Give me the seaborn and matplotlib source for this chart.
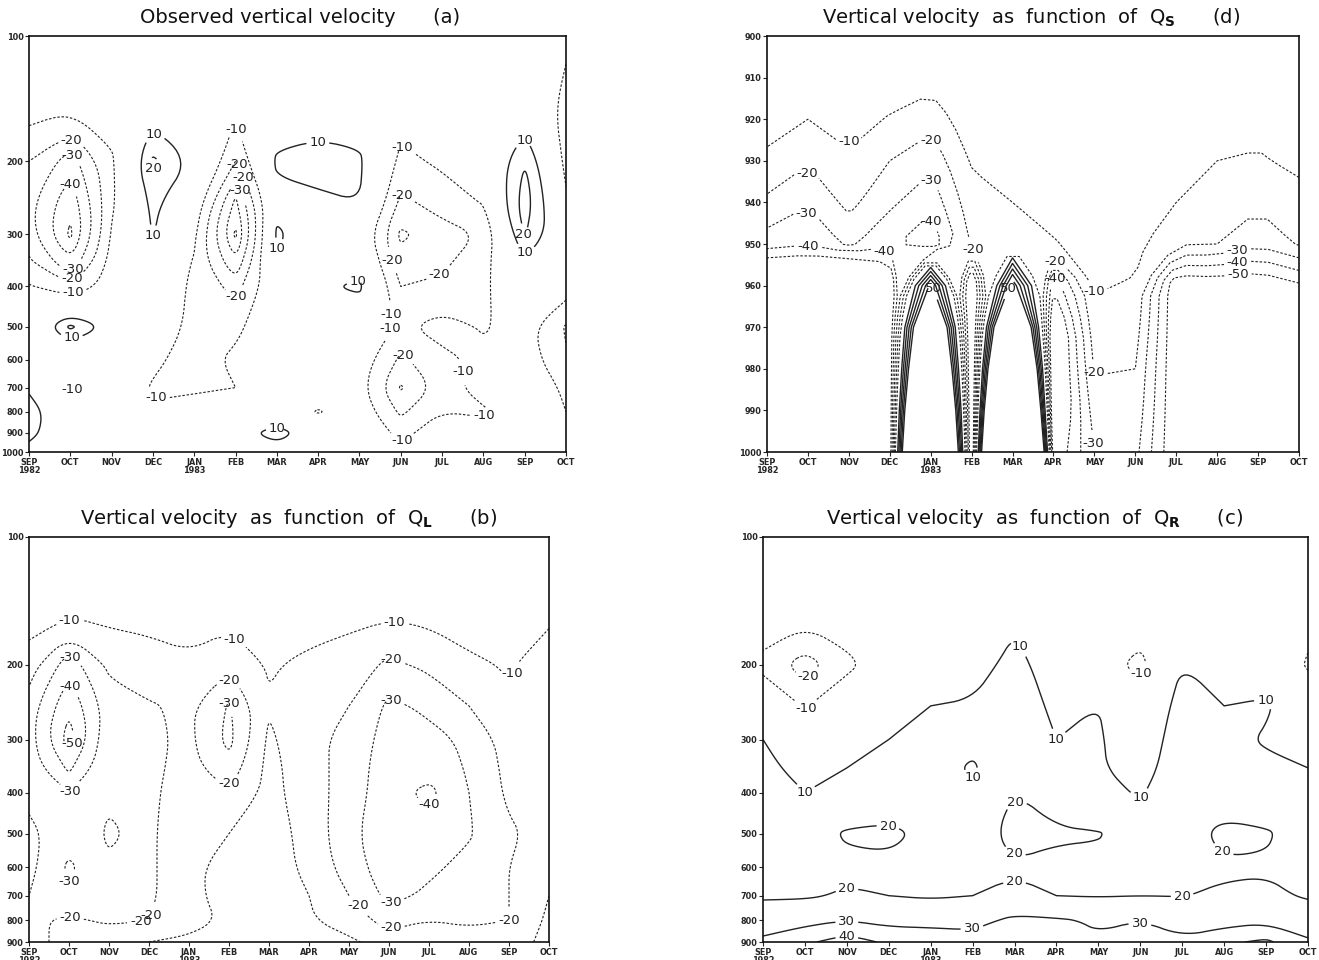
import numpy as np
import seaborn as sns
import matplotlib
matplotlib.use("Agg")
import matplotlib.pyplot as plt
from matplotlib.path import Path

# months SEP 1982 .. OCT 1983
months = ["SEP\n1982", "OCT", "NOV", "DEC", "JAN\n1983", "FEB", "MAR", "APR",
          "MAY", "JUN", "JUL", "AUG", "SEP", "OCT"]
month_idx = list(range(len(months)))

# pressure levels (hPa)
lev_a = [100, 150, 200, 250, 300, 350, 400, 500, 600, 700, 800, 900, 1000]
lev_bc = [100, 150, 200, 250, 300, 350, 400, 500, 600, 700, 800, 900]
lev_d = [900, 910, 920, 930, 940, 950, 960, 970, 980, 990, 1000]

# (a) observed vertical velocity, one row per month, values at lev_a
obs_w = [
    [0, -6, -20, -27, -26, -18, -9, -3, 0, 8, 16, 14, 5],
    [0, -9, -35, -47, -52, -38, -18, 22, -6, -11, -3, -2, 0],
    [0, -5, -12, -12, -9, -6, -5, 6, 0, -2, -1, 0, 0],
    [0, 5, 22, 13, 10.5, 3, -2, -5, -8, -11, -9, -2, 0],
    [0, 0, 8, -2, -8, -11, -12, -12, -14, -11, -7, -2, 0],
    [0, -8, -20, -42, -52, -38, -24, -12, -8, -10, -4, 5, 0],
    [0, 3, 12, 6, 12, 9, 0, -3, -2, -3, -1, 15, 4],
    [0, 5, 14, 8, 2, 4, 8, 0, 0, -2, -11, 2, 0],
    [0, 4, 12, 10, 0, 5, 12, 0, -4, -6, -3, -4, 0],
    [0, -5, -13, -22, -32, -26, -20, -12, -22, -31, -22, -12, -8],
    [0, -4, -8, -16, -24, -22, -18, -6, -13, -16, -10, -6, -3],
    [0, -2, -4, -9, -19, -14, -12, -11, -7, -4, -12, -4, 0],
    [0, 2, 20, 26, 21, 8, 0, -6, -4, -2, -2, 0, 0],
    [-8, -14, -13, -8, -2, -3, -5, -21, -19, -12, -10, -4, 0],
]

# (b) vertical velocity from Q_L, values at lev_bc
ql_w = [
    [0, -5, -15, -25, -26, -24, -22, -18, -17, -20, -22, -25],
    [0, -8, -36, -48, -55, -42, -30, -25, -32, -29, -18, -15],
    [0, -7, -18, -25, -22, -21, -21, -19, -21, -22, -22, -12],
    [0, -7, -14, -21, -22, -22, -22, -22, -22, -22, -20, -10],
    [0, -5, -12, -18, -18, -17, -15, -12, -12, -12, -14, -8],
    [0, -6, -18, -31, -33, -26, -19, -10, -7, -7, -8, -5],
    [0, -5, -9, -11, -8, -7, -7, -6, -6, -7, -9, -8],
    [0, -6, -12, -18, -18, -16, -15, -13, -12, -10, -9, -7],
    [0, -7, -15, -20, -22, -24, -25, -28, -25, -20, -15, -8],
    [0, -8, -22, -32, -35, -36, -36, -35, -36, -33, -24, -15],
    [0, -7, -18, -28, -33, -36, -43, -35, -32, -28, -20, -15],
    [0, -5, -12, -20, -28, -29, -30, -31, -27, -24, -22, -15],
    [0, -4, -9, -12, -15, -17, -18, -22, -20, -20, -20, -18],
    [0, -8, -15, -18, -14, -12, -12, -15, -12, -10, -8, -5],
]

# (c) vertical velocity from Q_R, values at lev_bc
qr_w = [
    [0, -3, -13, 0, 10, 13, 15, 20, 17, 19, 25, 32],
    [0, -5, -25, -11, 0, 6, 10, 16, 17, 19, 27, 38],
    [0, -3, -13, 0, 5, 10, 13, 21, 18, 21, 30, 45],
    [0, 0, -2, 6, 10, 12, 14, 22, 18, 20, 27, 38],
    [0, 0, 3, 10, 12, 13, 14, 18, 17, 19, 27, 36],
    [0, 2, 6, 11, 12, 9, 11, 16, 18, 20, 27, 34],
    [0, 8, 13, 15, 15, 16, 20, 23, 19, 22, 32, 36],
    [0, 0, 5, 8, 10, 12, 16, 21, 18, 20, 31, 38],
    [0, 0, -4, 10, 11, 11, 13, 20.5, 18, 19.5, 29, 31],
    [0, -2, -14, 0, 4, 6, 9, 16, 17, 20, 30, 33],
    [0, 5, 10, 14, 15, 16, 17, 17, 17, 19.8, 25, 32],
    [0, 0, 6, 10, 13, 15, 16, 22, 19, 21, 26, 38],
    [0, 0, 6, 11, 9, 12, 14, 21, 19, 22, 28, 42],
    [0, -4, -12, 4, 7, 10, 12, 16, 18, 19, 26, 31],
]

# (d) vertical velocity from Q_S, values at lev_d
qs_w = [
    [0, -2, -6, -12, -22, -35, -80, -80, -80, -80, -80],
    [0, -3, -10, -19, -29, -39, -80, -80, -80, -80, -80],
    [0, -2, -5, -12, -17, -28, -90, -90, -90, -90, -90],
    [0, -3, -11, -20, -28, -38, -65, -60, -60, -60, -60],
    [0, -6, -16, -27, -37, -48, 55, 130, 180, 240, 300],
    [0, -2, -4, -9, -14, -19, -70, -70, -70, -70, -70],
    [0, -1, -3, -5, -10, -15, 60, 150, 230, 320, 424],
    [0, 0, -1, -3, -5, -11, -48, -70, -70, -70, -60],
    [0, 0, -1, -2, -3, -5, -9, -14, -19, -25, -30],
    [0, 0, -1, -2, -4, -7, -11, -15, -20, -23, -27],
    [0, -1, -2, -5, -10, -19, -60, -60, -60, -60, -60],
    [0, -2, -5, -10, -15, -20, -58, -60, -60, -60, -60],
    [0, -3, -7, -11, -18, -28, -60, -60, -60, -60, -60],
    [0, -2, -5, -8, -13, -19, -52, -60, -60, -60, -60],
]

# where the contour labels sit (month, hPa): negative set, positive set
lab_a = (
    [(1.07, 171), (1.07, 191), (1.07, 217), (1.07, 365), (1.07, 396),
     (1.07, 416), (1.07, 718), (3.03, 770), (5.03, 165), (5.03, 204),
     (5.03, 221), (5.03, 238), (5.03, 427), (9.04, 171), (9.09, 225),
     (9.09, 339), (10.1, 404), (9.04, 464), (9.04, 513), (9.09, 563),
     (11.04, 641), (11.04, 847), (9.04, 953)],
    [(1.03, 538), (2.98, 163), (2.98, 215), (2.98, 303), (6.99, 174),
     (6.01, 362), (7.97, 368), (6.01, 878), (12.0, 179), (12.0, 300),
     (12.0, 342)],
)
lab_b = (
    [(1.03, 162), (1.03, 194), (1.03, 213), (1.03, 306), (1.03, 397),
     (1.03, 707), (1.03, 762), (3.03, 777), (3.03, 810), (5.04, 185),
     (5.04, 213), (5.04, 236), (5.04, 394), (8.04, 768), (9.14, 169),
     (9.05, 191), (9.05, 220), (9.05, 754), (9.05, 848), (10.1, 459),
     (12.1, 210), (12.1, 887)],
    [],
)
lab_c = (
    [(1.14, 221), (1.14, 265), (9.1, 215)],
    [(1.0, 412), (6.01, 185), (7.0, 329), (5.0, 408), (9.0, 408),
     (12.0, 238), (3.0, 455), (6.0, 405), (6.0, 556), (11.0, 540),
     (2.0, 676), (6.0, 636), (10.0, 700), (9.0, 787), (5.0, 861),
     (2.0, 831), (2.0, 863)],
)
lab_d = (
    [(2.0, 927), (8.0, 962), (1.0, 931), (4.0, 924), (8.0, 981),
     (1.0, 941), (4.0, 933), (8.0, 998), (1.0, 949.5), (4.0, 943),
     (2.9, 951), (11.5, 952.5), (11.5, 954.5), (11.5, 956.5),
     (7.05, 953), (7.05, 958), (5.0, 951.5)],
    [(4.0, 961), (6.0, 961)],
)

titles = ["Observed vertical velocity      (a)",
          r"Vertical velocity  as  function  of  Q$_\mathbf{S}$      (d)",
          r"Vertical velocity  as  function  of  Q$_\mathbf{L}$      (b)",
          r"Vertical velocity  as  function  of  Q$_\mathbf{R}$      (c)"]

cont_levels = [-50, -40, -30, -20, -10, 10, 20, 30, 40, 50]

sns.set_style("ticks")
plt.rcParams['font.family'] = ['DejaVu Sans']

W, H = 1319, 960
fig = plt.figure(figsize=(W / 100, H / 100), dpi=100)


def box(l, r, t, b):
    return [l / W, 1 - b / H, (r - l) / W, (b - t) / H]


def chaikin(pts, closed, passes):
    # corner cutting, like the spline option of the original plotting package
    for _ in range(passes):
        if len(pts) < 3:
            return pts
        if closed:
            a, b = pts, np.roll(pts, -1, axis=0)
            q = 0.75 * a + 0.25 * b
            r = 0.25 * a + 0.75 * b
            pts = np.empty((2 * len(a), 2))
            pts[0::2], pts[1::2] = q, r
        else:
            a, b = pts[:-1], pts[1:]
            q = 0.75 * a + 0.25 * b
            r = 0.25 * a + 0.75 * b
            mid = np.empty((2 * len(a), 2))
            mid[0::2], mid[1::2] = q, r
            pts = np.vstack([pts[:1], mid[1:-1], pts[-1:]])
    return pts


def soften(cs, logy, passes):
    if passes == 0:
        return
    out = []
    for p in cs.get_paths():
        v = p.vertices
        if len(v) == 0:
            out.append(p)
            continue
        c = p.codes
        if c is None:
            c = np.full(len(v), Path.LINETO)
            c[0] = Path.MOVETO
        starts = list(np.where(c == Path.MOVETO)[0]) + [len(v)]
        verts, codes = [], []
        for s, e in zip(starts[:-1], starts[1:]):
            seg = v[s:e].astype(float).copy()
            closed = c[e - 1] == Path.CLOSEPOLY
            if closed:
                seg = seg[:-1]
            elif len(seg) > 2 and np.allclose(seg[0], seg[-1]):
                closed = True
                seg = seg[:-1]
            if logy:
                seg[:, 1] = np.log10(seg[:, 1])
            seg = chaikin(seg, closed, passes)
            if logy:
                seg[:, 1] = 10 ** seg[:, 1]
            if closed:
                seg = np.vstack([seg, seg[:1]])
            verts.append(seg)
            codes += [Path.MOVETO] + [Path.LINETO] * (len(seg) - 1)
        out.append(Path(np.vstack(verts), codes))
    try:
        cs.set_paths(out)
    except Exception:
        cs._paths = out


def panel(rect, lev, data, logy, yticks, title, title_x, manual,
          passes=(3, 3)):
    ax = fig.add_axes(rect)
    z = np.array(data, dtype=float).T
    ink = "#222222"
    neg = [c for c in cont_levels if c < 0]
    pos = [c for c in cont_levels if c > 0]
    if logy:
        ax.set_yscale("log")
    ax.set_ylim(lev[-1], lev[0])
    ax.set_xlim(0, len(months) - 1)
    cn = ax.contour(month_idx, lev, z, levels=neg, colors=ink,
                    linewidths=0.8, linestyles=[(0, (2.2, 1.6))])
    cp = ax.contour(month_idx, lev, z, levels=pos, colors=ink,
                    linewidths=1.0, linestyles="solid")
    for cs, spots, npass in zip((cn, cp), manual, passes):
        soften(cs, logy, npass)
        if not spots:
            continue
        txt = ax.clabel(cs, fmt="%d", fontsize=9.5, inline=True,
                        inline_spacing=3, manual=spots)
        for t in txt:
            t.set_rotation(0)
            t.set_clip_on(False)
    ax.set_yticks(yticks)
    ax.set_yticklabels([str(v) for v in yticks])
    ax.minorticks_off()
    ax.set_xticks(month_idx)
    ax.set_xticklabels(months, linespacing=0.9)
    ax.tick_params(axis="both", labelsize=6.5, length=3, width=0.8,
                   direction="out", pad=1)
    for lab in ax.get_xticklabels() + ax.get_yticklabels():
        lab.set_fontweight("bold")
        lab.set_fontstretch("condensed")
    for s in ax.spines.values():
        s.set_linewidth(1.2)
        s.set_color("#111111")
    top = (1 - rect[1] - rect[3]) * H
    fig.text(title_x / W, 1 - (top - 18) / H, title,
             ha="center", va="center", fontsize=14, color="#111111")
    return ax


yt_a = [100, 200, 300, 400, 500, 600, 700, 800, 900, 1000]
yt_bc = [100, 200, 300, 400, 500, 600, 700, 800, 900]

panel(box(29, 566, 36, 452), lev_a, obs_w, True, yt_a, titles[0], 300, lab_a)
panel(box(767, 1299, 36, 452), lev_d, qs_w, False, lev_d, titles[1], 1031,
      lab_d, passes=(1, 0))
panel(box(29, 549, 537, 942), lev_bc, ql_w, True, yt_bc, titles[2], 288,
      lab_b)
panel(box(763, 1308, 537, 942), lev_bc, qr_w, True, yt_bc, titles[3], 1035,
      lab_c)

fig.savefig("out.png", dpi=100, facecolor="white")
